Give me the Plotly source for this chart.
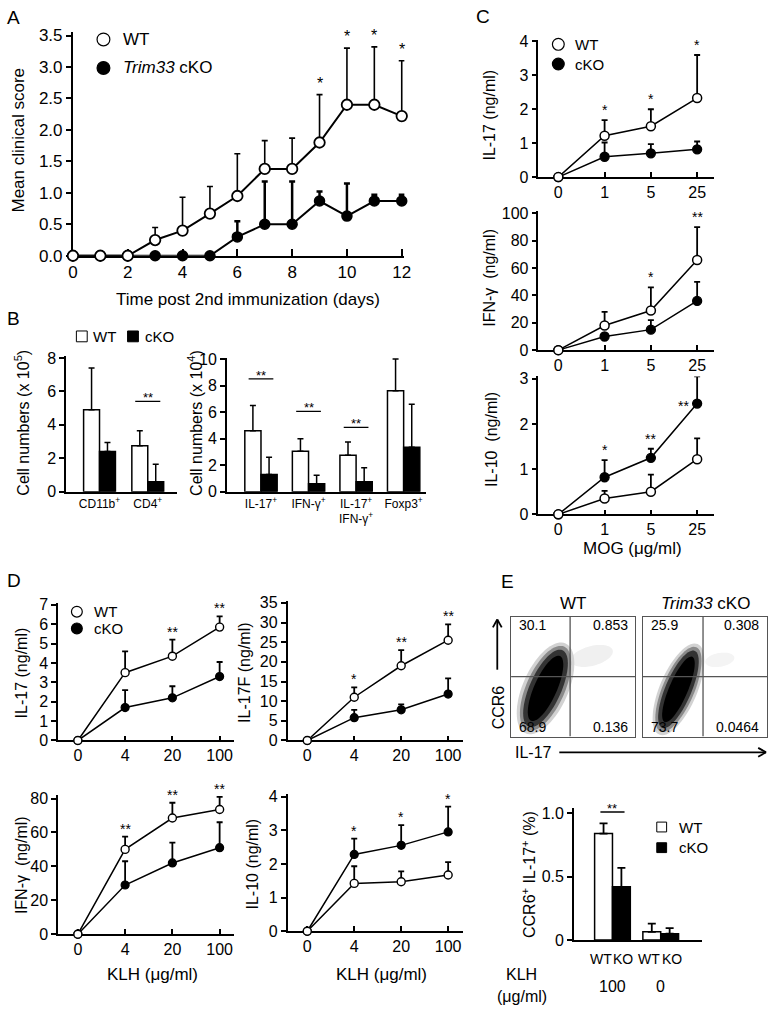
import numpy as np
import plotly.graph_objects as go

W, H = 777, 1014
FONT = "Liberation Sans, Arial, Helvetica, sans-serif"

# ---------------- data ----------------
# Panel A: mean clinical score
a_days = list(range(13))
a_wt = [0, 0, 0, 0.25, 0.40, 0.67, 0.95, 1.38, 1.38, 1.80, 2.40, 2.40, 2.22]
a_wt_err = [0, 0, 0, 0.20, 0.53, 0.43, 0.67, 0.45, 0.49, 0.76, 0.90, 0.92, 0.88]
a_ko = [0, 0, 0, 0, 0, 0, 0.30, 0.50, 0.50, 0.87, 0.63, 0.87, 0.87]
a_ko_err = [0, 0, 0, 0, 0, 0, 0.25, 0.68, 0.68, 0.15, 0.52, 0.10, 0.10]
a_sig = ["", "", "", "", "", "", "", "", "", "*", "*", "*", "*"]

# Panel B: cell numbers
b1_cats = ["CD11b<sup>+</sup>", "CD4<sup>+</sup>"]
b1_wt = [4.9, 2.75]
b1_wt_err = [2.5, 0.9]
b1_ko = [2.4, 0.6]
b1_ko_err = [0.55, 1.05]
b1_sig = ["", "**"]
b1_sig_y = [None, 5.4]

b2_cats = ["IL-17<sup>+</sup>", "IFN-γ<sup>+</sup>", "IL-17<sup>+</sup><br>IFN-γ<sup>+</sup>", "Foxp3<sup>+</sup>"]
b2_wt = [4.6, 3.05, 2.75, 7.6]
b2_wt_err = [1.9, 0.95, 1.0, 2.4]
b2_ko = [1.3, 0.6, 0.75, 3.35]
b2_ko_err = [1.3, 0.65, 1.05, 3.25]
b2_sig = ["**", "**", "**", ""]
b2_sig_y = [8.5, 6.05, 4.85, None]

# Panel C: MOG recall
mog_labels = ["0", "1", "5", "25"]
c1_wt = [0, 1.22, 1.50, 2.33]
c1_wt_err = [0, 0.46, 0.50, 1.27]
c1_ko = [0, 0.60, 0.70, 0.82]
c1_ko_err = [0, 0.42, 0.27, 0.23]
c1_sig = ["", "*", "*", "*"]

c2_wt = [0, 18, 29, 66]
c2_wt_err = [0, 10, 17, 24]
c2_ko = [0, 10, 15, 36]
c2_ko_err = [0, 2, 7, 14]
c2_sig = ["", "", "*", "**"]

c3_wt = [0, 0.35, 0.50, 1.22]
c3_wt_err = [0, 0.17, 0.38, 0.46]
c3_ko = [0, 0.82, 1.25, 2.45]
c3_ko_err = [0, 0.38, 0.20, 0.60]
c3_sig = ["", "*", "**", "**"]
c3_sig_side = ["top", "top", "top", "left"]

# Panel D: KLH recall
klh_labels = ["0", "4", "20", "100"]
d1_wt = [0, 3.5, 4.35, 5.85]
d1_wt_err = [0, 1.1, 0.85, 0.55]
d1_ko = [0, 1.7, 2.2, 3.3]
d1_ko_err = [0, 0.9, 0.6, 0.75]
d1_sig = ["", "", "**", "**"]

d2_wt = [0, 11, 19, 25.5]
d2_wt_err = [0, 2.5, 4, 4]
d2_ko = [0, 5.8, 7.8, 11.8]
d2_ko_err = [0, 2, 1.4, 4]
d2_sig = ["", "*", "**", "**"]

d3_wt = [0, 50, 68.5, 73.5]
d3_wt_err = [0, 7.5, 9, 7.5]
d3_ko = [0, 29, 42, 51]
d3_ko_err = [0, 14, 12, 15]
d3_sig = ["", "**", "**", "**"]

d4_wt = [0, 1.42, 1.47, 1.67]
d4_wt_err = [0, 0.51, 0.31, 0.38]
d4_ko = [0, 2.28, 2.55, 2.95]
d4_ko_err = [0, 0.47, 0.60, 0.75]
d4_sig = ["", "*", "*", "*"]

# Panel E: flow quadrants and CCR6+IL-17+ bars
flow_titles = ["WT", "<i>Trim33</i> cKO"]
flow_quads = [["30.1", "0.853", "68.9", "0.136"],
              ["25.9", "0.308", "73.7", "0.0464"]]
flow_gate_x = [0.476, 0.484]
flow_gate_y = 0.5

e_groups = ["100", "0"]
e_bar_labels = ["WT", "KO"]
e_wt = [0.84, 0.065]
e_wt_err = [0.08, 0.065]
e_ko = [0.42, 0.05]
e_ko_err = [0.15, 0.045]
e_sig = ["**", ""]
e_sig_y = [1.01, None]

# ---------------- helpers ----------------
traces, shapes, annots = [], [], []
layout_axes = {}
count = [0]


def px(x):
    return x / W


def py(y):
    return 1 - y / H


def tf(size):
    return dict(family=FONT, size=size, color="black")


def make_axes(x0, xppu, xrange, y0, yppu, yrange, xkw=None, ykw=None):
    count[0] += 1
    k = count[0]
    sx = "" if k == 1 else str(k)
    xl, xr_ = x0 + xrange[0] * xppu, x0 + xrange[1] * xppu
    yb, yt = y0 - yrange[0] * yppu, y0 - yrange[1] * yppu
    base = dict(showline=True, linecolor="black", linewidth=1.5, showgrid=False,
                zeroline=False, tickcolor="black", tickwidth=1.5, ticklen=5,
                tickfont=tf(16), layer="below traces", fixedrange=True)
    xa = dict(base, domain=[px(xl), px(xr_)], range=xrange, anchor="y" + sx)
    ya = dict(base, domain=[py(yb), py(yt)], range=yrange, anchor="x" + sx)
    xa.update(xkw or {})
    ya.update(ykw or {})
    layout_axes["xaxis" + sx] = xa
    layout_axes["yaxis" + sx] = ya
    return "x" + sx, "y" + sx


def add_series(xr, yr, xs, ys, errs, filled, msize, mlw, lw, ebt, ebw):
    traces.append(go.Scatter(
        x=xs, y=ys, xaxis=xr, yaxis=yr, mode="lines+markers",
        line=dict(color="black", width=lw),
        marker=dict(size=msize, color="black" if filled else "white",
                    line=dict(color="black", width=mlw)),
        error_y=dict(type="data", symmetric=False, array=errs,
                     arrayminus=[0] * len(errs), color="black",
                     thickness=ebt, width=ebw),
        cliponaxis=False, showlegend=False, hoverinfo="skip"))


def add_stars(xr, yr, xs, a, ae, b, be, sig, size, yshift, sides=None):
    for i, (x, s) in enumerate(zip(xs, sig)):
        if not s:
            continue
        side = sides[i] if sides else "top"
        if side == "left":
            annots.append(dict(x=x, y=max(a[i], b[i]), xref=xr, yref=yr, text=s,
                               showarrow=False, xanchor="right", yanchor="middle",
                               xshift=-6, yshift=-2, font=tf(size)))
        else:
            top = max(a[i] + ae[i], b[i] + be[i])
            annots.append(dict(x=x, y=top, xref=xr, yref=yr, text=s,
                               showarrow=False, xanchor="center", yanchor="bottom",
                               yshift=yshift, font=tf(size)))


def add_bars(xr, yr, wt, wte, ko, koe, w, ebt, ebw):
    n = len(wt)
    traces.append(go.Bar(x=[i - w / 2 for i in range(n)], y=wt, width=w,
                         xaxis=xr, yaxis=yr,
                         marker=dict(color="white", line=dict(color="black", width=1.5)),
                         error_y=dict(type="data", symmetric=False, array=wte,
                                      arrayminus=[0] * n, color="black",
                                      thickness=ebt, width=ebw),
                         showlegend=False, hoverinfo="skip"))
    traces.append(go.Bar(x=[i + w / 2 for i in range(n)], y=ko, width=w,
                         xaxis=xr, yaxis=yr,
                         marker=dict(color="black", line=dict(color="black", width=1.5)),
                         error_y=dict(type="data", symmetric=False, array=koe,
                                      arrayminus=[0] * n, color="black",
                                      thickness=ebt, width=ebw),
                         showlegend=False, hoverinfo="skip"))


def add_sig_lines(xr, yr, sig, sig_y, half, size):
    for i, (s, yv) in enumerate(zip(sig, sig_y)):
        if not s:
            continue
        shapes.append(dict(type="line", xref=xr, yref=yr, x0=i - half, x1=i + half,
                           y0=yv, y1=yv, line=dict(color="black", width=1.3)))
        annots.append(dict(x=i, y=yv, xref=xr, yref=yr, text=s, showarrow=False,
                           xanchor="center", yanchor="bottom", yshift=-6, font=tf(size)))


def text_at(x, y, text, size, xanchor="center", yanchor="middle", angle=0):
    annots.append(dict(x=px(x), y=py(y), xref="paper", yref="paper", text=text,
                       showarrow=False, xanchor=xanchor, yanchor=yanchor,
                       textangle=angle, font=tf(size)))


def legend_circle(cx, cy, r, filled, label, size, tx):
    shapes.append(dict(type="circle", xref="paper", yref="paper",
                       x0=px(cx - r), x1=px(cx + r), y0=py(cy + r), y1=py(cy - r),
                       line=dict(color="black", width=1.2),
                       fillcolor="black" if filled else "white"))
    text_at(tx, cy, label, size, xanchor="left")


def legend_square(cx, cy, r, filled, label, size, tx):
    shapes.append(dict(type="rect", xref="paper", yref="paper",
                       x0=px(cx - r), x1=px(cx + r), y0=py(cy + r), y1=py(cy - r),
                       line=dict(color="black", width=1.0),
                       fillcolor="black" if filled else "white"))
    text_at(tx, cy, label, size, xanchor="left")


def pline(x0, y0, x1, y1, width=1.8, color="black"):
    shapes.append(dict(type="line", xref="paper", yref="paper",
                       x0=px(x0), y0=py(y0), x1=px(x1), y1=py(y1),
                       line=dict(color=color, width=width)))


def ellipse(cx, cy, a, b, ang, color, opacity=1.0):
    t = np.linspace(0, 2 * np.pi, 72, endpoint=False)
    th = np.deg2rad(ang)
    xs = cx + a * np.cos(t) * np.cos(th) - b * np.sin(t) * np.sin(th)
    ys = cy - (a * np.cos(t) * np.sin(th) + b * np.sin(t) * np.cos(th))
    path = "M " + " L ".join(f"{px(x):.5f},{py(y):.5f}" for x, y in zip(xs, ys)) + " Z"
    shapes.append(dict(type="path", xref="paper", yref="paper", path=path,
                       fillcolor=color, opacity=opacity, line=dict(width=0)))


# ---------------- Panel A ----------------
xa, ya = make_axes(69, 27.83, [0, 12.1], 253, 64, [0, 3.55],
                   xkw=dict(tickvals=list(range(0, 13, 2)), ticks="inside", ticklen=7,
                            linewidth=2, tickwidth=2, tickfont=tf(17)),
                   ykw=dict(tickvals=[0, 0.5, 1, 1.5, 2, 2.5, 3, 3.5], tickformat=".1f",
                            ticks="outside", linewidth=2, tickwidth=2, tickfont=tf(17)))
add_series(xa, ya, a_days, a_ko, a_ko_err, True, 10, 1.5, 2, 2.5, 3)
add_series(xa, ya, a_days, a_wt, a_wt_err, False, 10.5, 1.8, 2, 1.6, 3)
add_stars(xa, ya, a_days, a_wt, a_wt_err, a_ko, a_ko_err, a_sig, 16, 1)
legend_circle(100, 33, 6.5, False, "WT", 17, 118)
legend_circle(100, 62, 6.5, True, "<i>Trim33</i> cKO", 17, 118)
text_at(14, 135, "Mean clinical score", 17, angle=-90)
text_at(247, 297, "Time post 2nd immunization (days)", 17)
text_at(9, 11, "A", 19)

# ---------------- Panel B ----------------
bx_kw = dict(ticks="", tickfont=tf(12), tickangle=0)
xb1, yb1 = make_axes(96, 49, [-0.69, 1.61], 493, 17, [0, 8.1],
                     xkw=dict(bx_kw, tickvals=[0, 1], ticktext=b1_cats),
                     ykw=dict(tickvals=[0, 2, 4, 6, 8], ticks="outside"))
add_bars(xb1, yb1, b1_wt, b1_wt_err, b1_ko, b1_ko_err, 0.33, 1.5, 3)
add_sig_lines(xb1, yb1, b1_sig, b1_sig_y, 0.26, 13)

xb2, yb2 = make_axes(260, 48.3, [-0.72, 3.48], 493, 13.5, [0, 10.1],
                     xkw=dict(bx_kw, tickvals=[0, 1, 2, 3], ticktext=b2_cats),
                     ykw=dict(tickvals=[0, 2, 4, 6, 8, 10], ticks="outside"))
add_bars(xb2, yb2, b2_wt, b2_wt_err, b2_ko, b2_ko_err, 0.34, 1.5, 3)
add_sig_lines(xb2, yb2, b2_sig, b2_sig_y, 0.26, 13)

legend_square(78, 335, 5.5, False, "WT", 15, 87)
legend_square(130, 335, 5.5, True, "cKO", 15, 140)
text_at(17, 423, "Cell numbers (x 10<sup>5</sup>)", 16, angle=-90)
text_at(193, 423, "Cell numbers (x 10<sup>4</sup>)", 16, angle=-90)
text_at(9, 317, "B", 19)

# ---------------- Panel C ----------------
cx_kw = dict(tickvals=[0, 1, 2, 3], ticktext=mog_labels, ticks="inside", ticklen=5)
xc1, yc1 = make_axes(562, 47, [-0.43, 3.36], 173, 34.5, [0, 4.05],
                     xkw=cx_kw, ykw=dict(tickvals=[0, 1, 2, 3, 4], ticks="outside"))
add_series(xc1, yc1, [0, 1, 2, 3], c1_ko, c1_ko_err, True, 9, 1.3, 1.5, 1.8, 3)
add_series(xc1, yc1, [0, 1, 2, 3], c1_wt, c1_wt_err, False, 9, 1.5, 1.5, 1.8, 3)
add_stars(xc1, yc1, [0, 1, 2, 3], c1_wt, c1_wt_err, c1_ko, c1_ko_err, c1_sig, 14, 0)
legend_circle(562, 38, 6, False, "WT", 15, 577)
legend_circle(562, 58, 6, True, "cKO", 15, 577)
text_at(492, 110, "IL-17 (ng/ml)", 16, angle=-90)

xc2, yc2 = make_axes(562, 47, [-0.43, 3.36], 349, 1.39, [0, 102],
                     xkw=cx_kw, ykw=dict(tickvals=[0, 20, 40, 60, 80, 100], ticks="outside"))
add_series(xc2, yc2, [0, 1, 2, 3], c2_ko, c2_ko_err, True, 9, 1.3, 1.5, 1.8, 3)
add_series(xc2, yc2, [0, 1, 2, 3], c2_wt, c2_wt_err, False, 9, 1.5, 1.5, 1.8, 3)
add_stars(xc2, yc2, [0, 1, 2, 3], c2_wt, c2_wt_err, c2_ko, c2_ko_err, c2_sig, 14, 0)
text_at(492, 275, "IFN-γ  (ng/ml)", 16, angle=-90)

xc3, yc3 = make_axes(562, 47, [-0.43, 3.36], 516, 46, [0, 3.05],
                     xkw=cx_kw, ykw=dict(tickvals=[0, 1, 2, 3], ticks="outside"))
add_series(xc3, yc3, [0, 1, 2, 3], c3_ko, c3_ko_err, True, 9, 1.3, 1.5, 1.8, 3)
add_series(xc3, yc3, [0, 1, 2, 3], c3_wt, c3_wt_err, False, 9, 1.5, 1.5, 1.8, 3)
add_stars(xc3, yc3, [0, 1, 2, 3], c3_wt, c3_wt_err, c3_ko, c3_ko_err, c3_sig, 14, 0,
          sides=c3_sig_side)
text_at(494, 440, "IL-10  (ng/ml)", 16, angle=-90)
text_at(637, 551, "MOG (μg/ml)", 17)
text_at(486, 10, "C", 19)

# ---------------- Panel D ----------------
dx_kw = dict(tickvals=[0, 1, 2, 3], ticktext=klh_labels, ticks="inside", ticklen=5)
xd1, yd1 = make_axes(74, 48, [-0.42, 3.31], 746, 19.71, [0, 7.1],
                     xkw=dx_kw, ykw=dict(tickvals=list(range(8)), ticks="outside"))
add_series(xd1, yd1, [0, 1, 2, 3], d1_ko, d1_ko_err, True, 8, 1.2, 1.5, 1.8, 3)
add_series(xd1, yd1, [0, 1, 2, 3], d1_wt, d1_wt_err, False, 8, 1.4, 1.5, 1.8, 3)
add_stars(xd1, yd1, [0, 1, 2, 3], d1_wt, d1_wt_err, d1_ko, d1_ko_err, d1_sig, 14, -2)
legend_circle(73, 615, 5.5, False, "WT", 15, 88)
legend_circle(73, 632, 5.5, True, "cKO", 15, 88)
text_at(17, 677, "IL-17 (ng/ml)", 16, angle=-90)

xd2, yd2 = make_axes(307, 47.7, [-0.42, 3.31], 746, 4, [0, 35.5],
                     xkw=dx_kw, ykw=dict(tickvals=list(range(0, 36, 5)), ticks="outside"))
add_series(xd2, yd2, [0, 1, 2, 3], d2_ko, d2_ko_err, True, 8, 1.2, 1.5, 1.8, 3)
add_series(xd2, yd2, [0, 1, 2, 3], d2_wt, d2_wt_err, False, 8, 1.4, 1.5, 1.8, 3)
add_stars(xd2, yd2, [0, 1, 2, 3], d2_wt, d2_wt_err, d2_ko, d2_ko_err, d2_sig, 14, -2)
text_at(243, 677, "IL-17F (ng/ml)", 16, angle=-90)

xd3, yd3 = make_axes(74, 48, [-0.42, 3.31], 943, 1.725, [0, 82],
                     xkw=dx_kw, ykw=dict(tickvals=[0, 20, 40, 60, 80], ticks="outside"))
add_series(xd3, yd3, [0, 1, 2, 3], d3_ko, d3_ko_err, True, 8, 1.2, 1.5, 1.8, 3)
add_series(xd3, yd3, [0, 1, 2, 3], d3_wt, d3_wt_err, False, 8, 1.4, 1.5, 1.8, 3)
add_stars(xd3, yd3, [0, 1, 2, 3], d3_wt, d3_wt_err, d3_ko, d3_ko_err, d3_sig, 14, -2)
text_at(17, 873, "IFN-γ  (ng/ml)", 16, angle=-90)
text_at(150, 984, "KLH (μg/ml)", 17)

xd4, yd4 = make_axes(307, 47.7, [-0.42, 3.31], 940, 34.25, [0, 4.08],
                     xkw=dx_kw, ykw=dict(tickvals=[0, 1, 2, 3, 4], ticks="outside"))
add_series(xd4, yd4, [0, 1, 2, 3], d4_ko, d4_ko_err, True, 8, 1.2, 1.5, 1.8, 3)
add_series(xd4, yd4, [0, 1, 2, 3], d4_wt, d4_wt_err, False, 8, 1.4, 1.5, 1.8, 3)
add_stars(xd4, yd4, [0, 1, 2, 3], d4_wt, d4_wt_err, d4_ko, d4_ko_err, d4_sig, 14, -2)
text_at(251, 872, "IL-10 (ng/ml)", 16, angle=-90)
text_at(382, 984, "KLH (μg/ml)", 17)
text_at(9, 583, "D", 19)

# ---------------- Panel E: flow plots ----------------
flow_left = [514, 648]
flow_cloud = [(549, 693, 50, 23, 66), (684, 694, 50, 19, 67)]
flow_sparse = [(596, 660, 22, 10, 15, "#f0f0f0"), (726, 664, 15, 7, 10, "#f4f4f4")]
for k in range(2):
    xf, yf = make_axes(flow_left[k], 126, [0, 1], 742, 122, [0, 1],
                       xkw=dict(showticklabels=False, ticks="", mirror=True,
                                linecolor="#555", linewidth=1.3),
                       ykw=dict(showticklabels=False, ticks="", mirror=True,
                                linecolor="#555", linewidth=1.3))
    sx, sy, sa, sb, sang, scol = flow_sparse[k]
    ellipse(sx, sy, sa, sb, sang, scol)
    cx, cy, a, b, ang = flow_cloud[k]
    for sa_, sb_, col in [(1.0, 1.0, "#d2d2d2"), (0.93, 0.85, "#8a8a8a"),
                          (0.85, 0.7, "#333333"), (0.72, 0.5, "#000000")]:
        ellipse(cx, cy, a * sa_, b * sb_, ang, col)
    shapes.append(dict(type="line", xref=xf, yref=yf, x0=flow_gate_x[k], x1=flow_gate_x[k],
                       y0=0, y1=1, line=dict(color="#555", width=1.3)))
    shapes.append(dict(type="line", xref=xf, yref=yf, x0=0, x1=1,
                       y0=flow_gate_y, y1=flow_gate_y, line=dict(color="#555", width=1.3)))
    q = flow_quads[k]
    for txt, xx, yy, anc in [(q[0], 0.045, 0.93, "left"), (q[1], 0.955, 0.93, "right"),
                             (q[2], 0.045, 0.08, "left"), (q[3], 0.955, 0.08, "right")]:
        annots.append(dict(x=xx, y=yy, xref=xf, yref=yf, text=txt, showarrow=False,
                           xanchor=anc, yanchor="middle", font=tf(14)))
    text_at(flow_left[k] + 63, 607, flow_titles[k], 17)

# axis arrows
pline(500, 674, 500, 623)
pline(500, 623, 495.5, 631)
pline(500, 623, 504.5, 631)
text_at(501, 712, "CCR6", 16, angle=-90)
pline(563, 758, 773, 758)
pline(773, 758, 765, 753.5)
pline(773, 758, 765, 762.5)
text_at(537, 758, "IL-17", 16)
text_at(510, 584, "E", 19)

# ---------------- Panel E: bars ----------------
ew = 0.37
xe, ye = make_axes(617, 49, [-0.8, 1.86], 949, 129, [0, 1.04],
                   xkw=dict(ticks="", showticklabels=False),
                   ykw=dict(tickvals=[0, 0.5, 1.0], ticktext=["0", "0.5", "1.0"],
                            ticks="outside"))
add_bars(xe, ye, e_wt, e_wt_err, e_ko, e_ko_err, ew, 1.8, 4)
add_sig_lines(xe, ye, e_sig, e_sig_y, 0.25, 13)
for i, g in enumerate(e_groups):
    for j, lab in enumerate(e_bar_labels):
        annots.append(dict(x=i + (j - 0.5) * ew, y=py(968), xref=xe, yref="paper",
                           text=lab, showarrow=False, xanchor="center", yanchor="middle",
                           xshift=-3 if j == 0 else 2, font=tf(14)))
    annots.append(dict(x=i, y=py(996), xref=xe, yref="paper", text=g, showarrow=False,
                       xanchor="center", yanchor="middle", font=tf(16)))
text_at(525, 984, "KLH", 16)
text_at(525, 1006, "(μg/ml)", 16)
legend_square(667, 834, 5, False, "WT", 15, 683)
legend_square(667, 855, 5, True, "cKO", 15, 683)
text_at(532, 882, "CCR6<sup>+</sup> IL-17<sup>+</sup> (%)", 16, angle=-90)

# ---------------- figure ----------------
fig = go.Figure(traces)
fig.update_layout(width=W, height=H, autosize=False,
                  margin=dict(l=0, r=0, t=0, b=0, pad=0),
                  paper_bgcolor="white", plot_bgcolor="rgba(0,0,0,0)",
                  showlegend=False, barmode="overlay",
                  font=dict(family=FONT, color="black"),
                  shapes=shapes, annotations=annots, **layout_axes)
fig.write_html("out.html", config={"displayModeBar": False},
               post_script="document.body.style.margin='0';document.body.style.overflow='hidden';")
